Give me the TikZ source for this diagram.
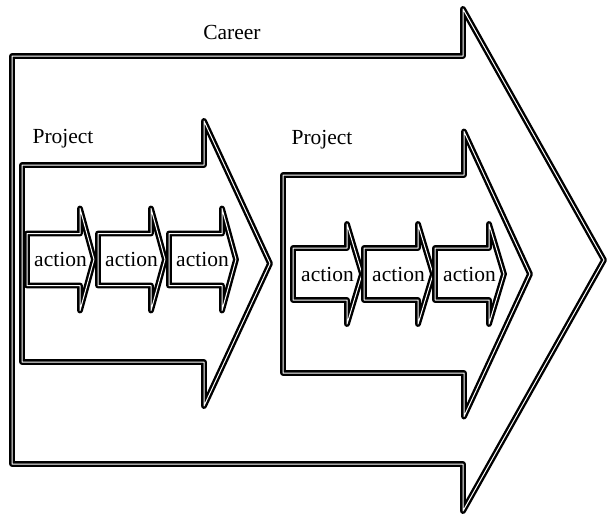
\documentclass[tikz,border=0pt]{standalone}
\usepackage{fontspec}
\setmainfont{Liberation Serif}
\tikzset{
        arrowline/.style = {draw=black, line width=2.4pt, double=white,
            double distance=1pt, line join=round},
        arrowlabel/.style = {inner sep=0pt, text centered,
            font=\fontsize{21.5}{25}\selectfont}
    }
% tail x, centre y, shaft half, head base x, head half, tip x
\newcommand{\fatarrow}[6]{%
    \draw[arrowline] (#1,#2-#3) -- (#4,#2-#3) -- (#4,#2-#5) -- (#6,#2)
        -- (#4,#2+#5) -- (#4,#2+#3) -- (#1,#2+#3) -- cycle;}

\begin{document}
\begin{tikzpicture}[x=1pt, y=-1pt]
            \useasboundingbox (0,0) rectangle (607,514);
            \fatarrow{12}{260}{204}{463}{251}{604} % career
            \fatarrow{22}{263.5}{98.5}{204}{142.5}{270} % project 1
            \fatarrow{283}{274}{99}{464}{142.5}{530} % project 2
            \foreach \x [count=\i] in {27,98,169}{
                \fatarrow{\x}{259.5}{26}{\x+53}{51}{\x+67}
                \node [arrowlabel] (act1-\i) at (\x+33.5,259.5) {action};
            }
            \foreach \x [count=\i] in {293,364,435}{
                \fatarrow{\x}{274}{26}{\x+54}{50}{\x+69}
                \node [arrowlabel] (act2-\i) at (\x+34.5,274) {action};
            }
            \node [arrowlabel] (career) at (232,32) {Career};
            \node [arrowlabel] (proj1) at (63,139) {Project};
            \node [arrowlabel] (proj2) at (322,140) {Project};
        \end{tikzpicture}
\end{document}
